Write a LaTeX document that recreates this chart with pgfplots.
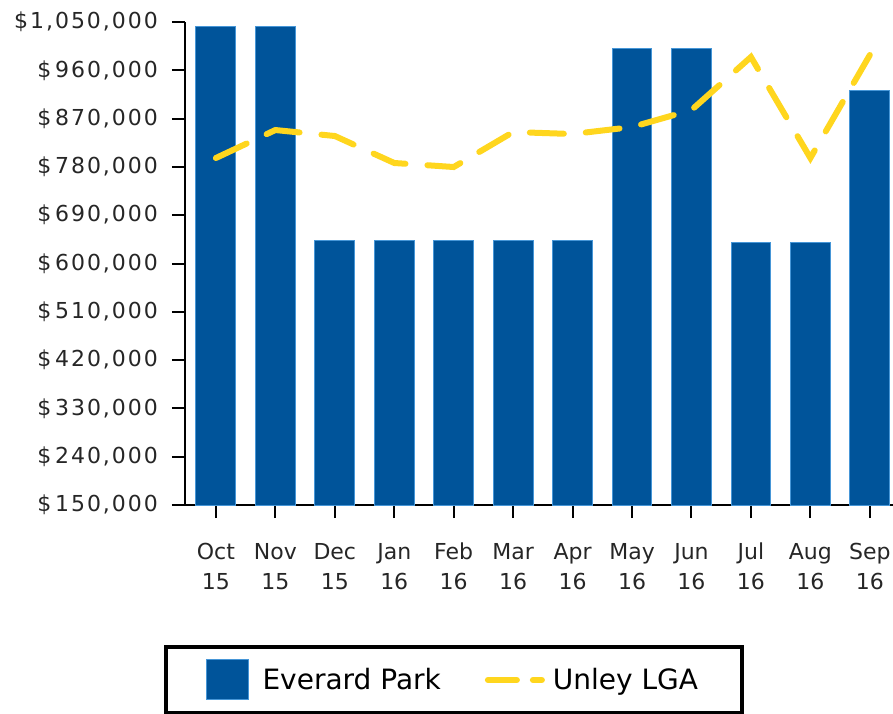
\documentclass[border=0pt]{standalone}
\usepackage{fontspec}
\setmainfont{DejaVu Sans}
\newfontfamily\ytickfont[LetterSpace=9]{DejaVu Sans}
\usepackage{pgfplots}
\pgfplotsset{compat=1.18}
\definecolor{barblue}{RGB}{0,84,154}
\definecolor{baredge}{RGB}{70,150,215}
\definecolor{lgagold}{RGB}{255,214,30}
\pgfplotsset{
  barlegend/.style={legend image code/.code={\draw[##1] (0pt,-10pt) rectangle (21pt,10pt);
    \path[draw=none,fill=none] (21pt,0pt) -- (26pt,0pt);}},
  linelegend/.style={legend image code/.code={\draw[##1, dash pattern=on 14.5pt off 8pt] (1.5pt,0pt) -- (28.5pt,0pt);
    \path[draw=none,fill=none] (28.5pt,0pt) -- (32pt,0pt);}},
}

\begin{document}
\begin{tikzpicture}[x=1pt,y=1pt]
\begin{axis}[
  at={(0,0)}, anchor=south west,
  scale only axis,
  width=354pt, height=241.5pt,
  xmin=-0.52, xmax=11.39,
  ymin=150000, ymax=1050000,
  axis x line*=bottom, axis y line*=left,
  axis line style={line width=1pt},
  x axis line style={shorten <=-6.5pt},
  tick align=outside,
  major tick length=6.5pt,
  tick style={line width=1pt, black},
  scaled y ticks=false,
  ytick={150000,240000,330000,420000,510000,600000,690000,780000,870000,960000,1050000},
  yticklabels={{\$\,150,000},{\$\,240,000},{\$\,330,000},{\$\,420,000},{\$\,510,000},{\$\,600,000},{\$\,690,000},{\$\,780,000},{\$\,870,000},{\$\,960,000},{\$1,050,000}},
  xtick={0,1,2,3,4,5,6,7,8,9,10,11},
  xticklabels={{Oct\\15},{Nov\\15},{Dec\\15},{Jan\\16},{Feb\\16},{Mar\\16},{Apr\\16},{May\\16},{Jun\\16},{Jul\\16},{Aug\\16},{Sep\\16}},
  ticklabel style={text=black!85},
  xticklabel style={align=center, yshift=-9pt, font=\fontsize{11}{15}\selectfont},
  yticklabel style={xshift=-3.5pt, font=\ytickfont\fontsize{11}{13}\selectfont},
  legend columns=2,
  legend style={at={(axis description cs:0.38,-0.3623)}, anchor=center,
    draw=black, line width=2pt, font=\fontsize{14}{16}\selectfont,
    inner xsep=20pt, inner ysep=6pt,
    /tikz/every even column/.append style={column sep=20pt}},
]
\addplot[ybar, bar width=0.67, fill=barblue, draw=baredge, line width=0.5pt, barlegend]
  coordinates {(0,1042500) (1,1042500) (2,643800) (3,643800) (4,643800) (5,643800)
    (6,643800) (7,1001000) (8,1001000) (9,638800) (10,638800) (11,922000)};
\addlegendentry{Everard Park}
\addplot[lgagold, line width=3pt, dash pattern=on 17pt off 11pt, line cap=round, mark=none, linelegend]
  coordinates {(0,796600) (1,848700) (2,837600) (3,787300) (4,779800) (5,845000)
    (6,841300) (7,854300) (8,886000) (9,984800) (10,796600) (11,988500)};
\addlegendentry{Unley LGA}
\end{axis}
\pgfresetboundingbox
\path (-92.5pt,-104pt) rectangle (354pt,252.5pt);
\end{tikzpicture}
\end{document}
